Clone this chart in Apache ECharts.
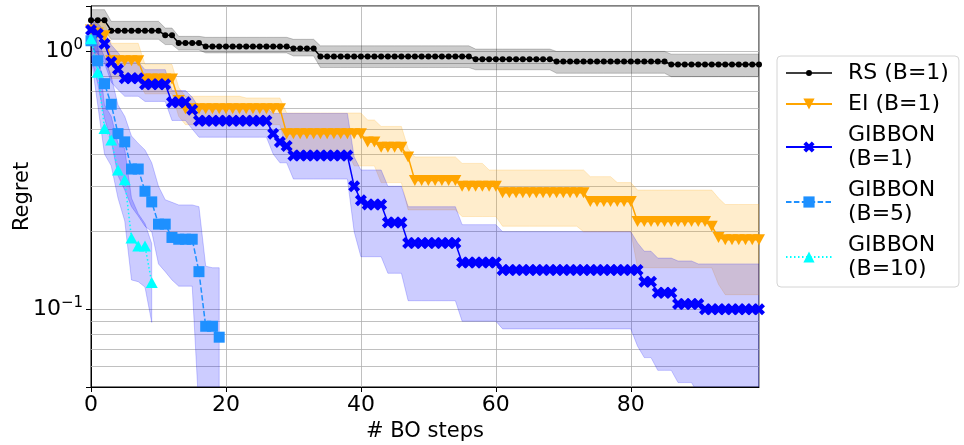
<!DOCTYPE html>
<html>
<head>
<meta charset="utf-8">
<script src="https://cdn.jsdelivr.net/npm/echarts@6/dist/echarts.min.js"></script>
<style>
  html, body { margin: 0; padding: 0; background: #fff; }
  #chart { width: 964px; height: 445px; }
</style>
</head>
<body>
<div id="chart"></div>
<script>
// regret per BO step (x = 0..99)
const rsMean = [
  1.32, 1.32, 1.32, 1.203, 1.203, 1.203, 1.203, 1.203, 1.203, 1.203,
  1.203, 1.154, 1.154, 1.077, 1.077, 1.077, 1.077, 1.046, 1.046, 1.046,
  1.046, 1.046, 1.046, 1.046, 1.046, 1.046, 1.046, 1.046, 1.046, 1.046,
  1.027, 1.027, 1.027, 1.027, 0.956, 0.956, 0.956, 0.956, 0.956, 0.956,
  0.956, 0.956, 0.956, 0.956, 0.956, 0.956, 0.956, 0.956, 0.956, 0.956,
  0.956, 0.956, 0.956, 0.956, 0.956, 0.956, 0.956, 0.933, 0.933, 0.933,
  0.933, 0.933, 0.933, 0.933, 0.933, 0.933, 0.933, 0.933, 0.933, 0.914,
  0.914, 0.914, 0.914, 0.914, 0.914, 0.914, 0.914, 0.914, 0.914, 0.914,
  0.914, 0.914, 0.914, 0.914, 0.914, 0.914, 0.890, 0.890, 0.890, 0.890,
  0.890, 0.890, 0.890, 0.890, 0.890, 0.890, 0.890, 0.890, 0.890, 0.890
];
const rsUpper = [
  1.452, 1.452, 1.452, 1.308, 1.308, 1.308, 1.308, 1.308, 1.308, 1.308,
  1.308, 1.232, 1.232, 1.144, 1.144, 1.144, 1.144, 1.134, 1.134, 1.134,
  1.134, 1.134, 1.134, 1.134, 1.134, 1.134, 1.134, 1.134, 1.134, 1.134,
  1.114, 1.114, 1.114, 1.114, 1.051, 1.051, 1.051, 1.051, 1.051, 1.051,
  1.051, 1.051, 1.051, 1.051, 1.051, 1.051, 1.051, 1.051, 1.051, 1.051,
  1.051, 1.051, 1.051, 1.051, 1.051, 1.051, 1.051, 1.021, 1.021, 1.021,
  1.021, 1.021, 1.021, 1.021, 1.021, 1.021, 1.021, 1.021, 1.021, 1.0,
  1.0, 1.0, 1.0, 1.0, 1.0, 1.0, 1.0, 1.0, 1.0, 1.0,
  1.0, 1.0, 1.0, 1.0, 1.0, 1.0, 0.976, 0.976, 0.976, 0.976,
  0.976, 0.976, 0.976, 0.976, 0.976, 0.976, 0.976, 0.976, 0.976, 0.976
];
const rsLower = [
  1.206, 1.206, 1.206, 1.114, 1.114, 1.114, 1.114, 1.114, 1.114, 1.114,
  1.114, 1.063, 1.063, 1.012, 1.012, 1.012, 1.012, 0.987, 0.987, 0.987,
  0.987, 0.987, 0.987, 0.987, 0.987, 0.987, 0.987, 0.987, 0.987, 0.987,
  0.960, 0.960, 0.960, 0.960, 0.866, 0.866, 0.866, 0.866, 0.866, 0.866,
  0.866, 0.866, 0.866, 0.866, 0.866, 0.866, 0.866, 0.866, 0.866, 0.866,
  0.866, 0.866, 0.866, 0.866, 0.866, 0.866, 0.866, 0.849, 0.849, 0.849,
  0.849, 0.849, 0.849, 0.849, 0.849, 0.849, 0.849, 0.849, 0.849, 0.823,
  0.823, 0.823, 0.823, 0.823, 0.823, 0.823, 0.823, 0.823, 0.823, 0.823,
  0.823, 0.823, 0.823, 0.823, 0.823, 0.823, 0.798, 0.798, 0.798, 0.798,
  0.798, 0.798, 0.798, 0.798, 0.798, 0.798, 0.798, 0.798, 0.798, 0.798
];

const eiMean = [
  1.21, 1.18, 1.15, 0.92, 0.92, 0.92, 0.92, 0.92, 0.782, 0.782,
  0.782, 0.782, 0.782, 0.645, 0.60, 0.60, 0.60, 0.60, 0.60, 0.60,
  0.60, 0.60, 0.60, 0.60, 0.60, 0.60, 0.60, 0.60, 0.60, 0.48,
  0.48, 0.48, 0.48, 0.48, 0.48, 0.48, 0.48, 0.48, 0.48, 0.48,
  0.48, 0.445, 0.445, 0.425, 0.425, 0.425, 0.425, 0.39, 0.316, 0.316,
  0.316, 0.316, 0.316, 0.316, 0.316, 0.30, 0.30, 0.30, 0.30, 0.30,
  0.30, 0.283, 0.283, 0.283, 0.283, 0.283, 0.283, 0.283, 0.283, 0.283,
  0.283, 0.283, 0.283, 0.283, 0.262, 0.262, 0.262, 0.262, 0.262, 0.262,
  0.262, 0.219, 0.219, 0.219, 0.219, 0.219, 0.219, 0.219, 0.219, 0.219,
  0.219, 0.219, 0.21, 0.19, 0.186, 0.186, 0.186, 0.186, 0.186, 0.186
];
const eiUpper = [
  1.3, 1.3, 1.3, 1.075, 1.075, 1.075, 1.075, 1.075, 0.89, 0.89,
  0.89, 0.89, 0.89, 0.725, 0.67, 0.67, 0.67, 0.67, 0.67, 0.67,
  0.67, 0.67, 0.67, 0.66, 0.66, 0.66, 0.66, 0.66, 0.66, 0.577,
  0.577, 0.577, 0.577, 0.577, 0.577, 0.577, 0.577, 0.577, 0.577, 0.577,
  0.577, 0.542, 0.542, 0.512, 0.512, 0.512, 0.512, 0.42, 0.39, 0.39,
  0.39, 0.39, 0.39, 0.39, 0.39, 0.368, 0.368, 0.368, 0.368, 0.347,
  0.347, 0.347, 0.347, 0.347, 0.347, 0.347, 0.347, 0.347, 0.347, 0.347,
  0.347, 0.347, 0.347, 0.347, 0.327, 0.327, 0.327, 0.327, 0.31, 0.31,
  0.31, 0.29, 0.29, 0.29, 0.29, 0.29, 0.29, 0.29, 0.29, 0.29,
  0.29, 0.29, 0.29, 0.27, 0.255, 0.255, 0.255, 0.255, 0.255, 0.255
];
const eiLower = [
  0.96, 0.96, 0.96, 0.785, 0.785, 0.785, 0.785, 0.785, 0.685, 0.685,
  0.685, 0.685, 0.685, 0.56, 0.52, 0.52, 0.52, 0.52, 0.52, 0.52,
  0.52, 0.52, 0.52, 0.52, 0.52, 0.52, 0.52, 0.52, 0.52, 0.41,
  0.41, 0.41, 0.41, 0.41, 0.41, 0.41, 0.41, 0.41, 0.41, 0.36,
  0.36, 0.36, 0.36, 0.31, 0.31, 0.31, 0.31, 0.243, 0.243, 0.243,
  0.243, 0.243, 0.243, 0.243, 0.243, 0.229, 0.229, 0.229, 0.229, 0.229,
  0.229, 0.21, 0.21, 0.21, 0.21, 0.21, 0.21, 0.21, 0.21, 0.21,
  0.21, 0.21, 0.21, 0.2, 0.2, 0.2, 0.2, 0.2, 0.2, 0.2,
  0.2, 0.145, 0.145, 0.145, 0.145, 0.145, 0.145, 0.145, 0.145, 0.145,
  0.145, 0.145, 0.145, 0.125, 0.114, 0.114, 0.114, 0.114, 0.114, 0.114
];

const g1Mean = [
  1.21, 1.17, 1.07, 0.91, 0.852, 0.787, 0.787, 0.787, 0.746, 0.746,
  0.746, 0.746, 0.635, 0.635, 0.635, 0.594, 0.538, 0.538, 0.538, 0.538,
  0.538, 0.538, 0.538, 0.538, 0.538, 0.538, 0.538, 0.48, 0.445, 0.43,
  0.395, 0.395, 0.395, 0.395, 0.395, 0.395, 0.395, 0.395, 0.395, 0.30,
  0.265, 0.255, 0.255, 0.255, 0.217, 0.217, 0.217, 0.181, 0.181, 0.181,
  0.181, 0.181, 0.181, 0.181, 0.181, 0.152, 0.152, 0.152, 0.152, 0.152,
  0.152, 0.142, 0.142, 0.142, 0.142, 0.142, 0.142, 0.142, 0.142, 0.142,
  0.142, 0.142, 0.142, 0.142, 0.142, 0.142, 0.142, 0.142, 0.142, 0.142,
  0.142, 0.142, 0.128, 0.128, 0.116, 0.116, 0.116, 0.105, 0.105, 0.105,
  0.105, 0.1, 0.1, 0.1, 0.1, 0.1, 0.1, 0.1, 0.1, 0.1
];
const g1Upper = [
  1.36, 1.29, 1.19, 1.06, 0.99, 0.91, 0.91, 0.91, 0.85, 0.85,
  0.85, 0.85, 0.705, 0.705, 0.705, 0.665, 0.605, 0.605, 0.605, 0.605,
  0.605, 0.605, 0.605, 0.605, 0.605, 0.605, 0.605, 0.575, 0.575, 0.575,
  0.575, 0.575, 0.575, 0.575, 0.575, 0.575, 0.575, 0.575, 0.575, 0.39,
  0.347, 0.347, 0.347, 0.347, 0.30, 0.30, 0.30, 0.25, 0.25, 0.25,
  0.25, 0.25, 0.25, 0.25, 0.25, 0.213, 0.213, 0.213, 0.213, 0.213,
  0.213, 0.2, 0.2, 0.2, 0.2, 0.2, 0.2, 0.2, 0.2, 0.2,
  0.2, 0.2, 0.2, 0.2, 0.2, 0.2, 0.2, 0.2, 0.2, 0.2,
  0.2, 0.181, 0.168, 0.168, 0.158, 0.158, 0.158, 0.154, 0.154, 0.154,
  0.15, 0.15, 0.15, 0.15, 0.15, 0.15, 0.15, 0.15, 0.15, 0.15
];
const g1Lower = [
  1.05, 0.98, 0.9, 0.76, 0.71, 0.67, 0.67, 0.67, 0.64, 0.64,
  0.64, 0.64, 0.54, 0.54, 0.54, 0.5, 0.465, 0.465, 0.465, 0.465,
  0.465, 0.465, 0.465, 0.465, 0.465, 0.465, 0.465, 0.4, 0.37, 0.37,
  0.32, 0.32, 0.32, 0.32, 0.32, 0.32, 0.32, 0.32, 0.32, 0.2,
  0.16, 0.16, 0.16, 0.16, 0.138, 0.138, 0.138, 0.108, 0.108, 0.108,
  0.108, 0.108, 0.108, 0.108, 0.108, 0.09, 0.09, 0.09, 0.09, 0.09,
  0.09, 0.084, 0.084, 0.084, 0.084, 0.084, 0.084, 0.084, 0.084, 0.084,
  0.084, 0.084, 0.084, 0.084, 0.084, 0.084, 0.084, 0.084, 0.084, 0.084,
  0.084, 0.072, 0.065, 0.065, 0.058, 0.058, 0.058, 0.052, 0.052, 0.052,
  0.047, 0.047, 0.047, 0.047, 0.047, 0.047, 0.047, 0.047, 0.047, 0.047
];

// batch runs stop early
const g5Mean = [1.1, 0.92, 0.75, 0.624, 0.48, 0.446, 0.35, 0.35, 0.287, 0.261,
                0.214, 0.214, 0.19, 0.187, 0.187, 0.187, 0.14, 0.086, 0.086, 0.078];
const g5Upper = [1.3, 1.1, 0.95, 0.8, 0.62, 0.56, 0.47, 0.44, 0.415, 0.37,
                 0.3, 0.266, 0.26, 0.254, 0.254, 0.254, 0.25, 0.147, 0.145, 0.145];
const g5Lower = [0.95, 0.75, 0.55, 0.45, 0.33, 0.29, 0.25, 0.23, 0.21, 0.2,
                 0.15, 0.14, 0.13, 0.123, 0.123, 0.123, 0.04, 0.02, 0.02, 0.02];

const g10Mean = [1.12, 0.83, 0.503, 0.453, 0.347, 0.318, 0.189, 0.176, 0.176, 0.127];
const g10Upper = [1.3, 1.05, 0.62, 0.56, 0.44, 0.42, 0.27, 0.235, 0.215, 0.18];
const g10Lower = [0.95, 0.62, 0.4, 0.36, 0.27, 0.22, 0.13, 0.128, 0.122, 0.089];

// log axis grid lines between the decades
const minorGrid = [0.06, 0.07, 0.08, 0.09, 0.2, 0.3, 0.4, 0.5, 0.6, 0.7, 0.8, 0.9];
const majorLabels = { 1: '{b|10}{s|0}', 0.1: '{b|10}{s|\u22121}' };

const FONT = 'DejaVu Sans';
const xSymbol = 'path://M0,2.5L2.5,0L5,2.5L7.5,0L10,2.5L7.5,5L10,7.5L7.5,10L5,7.5L2.5,10L0,7.5L2.5,5Z';
// line + small dot for the RS legend entry (corner specks keep the 46x14 box)
const rsIcon = 'path://M0,0L0.01,0L0.01,0.01Z M46,14L45.99,14L45.99,13.99Z M0,6.25L46,6.25L46,7.75L0,7.75Z M20,7A3,3,0,1,1,26,7A3,3,0,1,1,20,7Z';

function xy(values) {
  return values.map((v, i) => [i, v]);
}

// shaded band: one polygon (upper edge, then lower edge backwards) placed by the axes
function band(key, lower, upper, rgb) {
  return {
    type: 'custom', name: key + '_band', silent: true, clip: true, z: 1,
    data: lower.map((v, i) => [i, v, upper[i]]),
    encode: { x: 0, y: [1, 2] },
    renderItem: function (params, api) {
      if (params.dataIndex !== 0) return null;
      const top = upper.map((v, i) => api.coord([i, v]));
      const bottom = lower.map((v, i) => api.coord([i, v])).reverse();
      return {
        type: 'polygon',
        shape: { points: top.concat(bottom) },
        style: {
          fill: 'rgba(' + rgb + ',0.2)',
          stroke: 'rgba(' + rgb + ',0.2)',
          lineWidth: 1
        }
      };
    }
  };
}

function mean(name, values, color, symbol, size, dash, extra) {
  return Object.assign({
    type: 'line', name: name, data: xy(values),
    symbol: symbol, symbolSize: size,
    itemStyle: { color: color },
    lineStyle: { color: color, width: 1.5, type: dash },
    z: 3
  }, extra || {});
}

const chart = echarts.init(document.getElementById('chart'));

const option = {
  animation: false,
  backgroundColor: '#fff',
  textStyle: { fontFamily: FONT },
  grid: {
    left: 91, right: 205, top: 6, bottom: 58,
    outerBoundsMode: 'none', containLabel: false,
    show: true, borderColor: '#000', borderWidth: 1
  },
  legend: {
    orient: 'vertical', left: 777, top: 56,
    padding: [5, 10, 6, 8], itemGap: 7,
    itemWidth: 46, itemHeight: 14,
    backgroundColor: '#fff', borderColor: '#d4d4d4', borderWidth: 1, borderRadius: 4,
    selectedMode: false,
    textStyle: { fontFamily: FONT, fontSize: 22, color: '#000', lineHeight: 24, padding: [0, 0, 0, 11] },
    data: [
      { name: 'RS (B=1)', icon: rsIcon },
      'EI (B=1)', 'GIBBON\n(B=1)', 'GIBBON\n(B=5)', 'GIBBON\n(B=10)'
    ]
  },
  xAxis: {
    type: 'value', min: 0, max: 99, interval: 20,
    name: '# BO steps', nameLocation: 'middle', nameGap: 31,
    nameTextStyle: { fontFamily: FONT, fontSize: 21, color: '#000' },
    axisLine: { lineStyle: { color: '#000', width: 1 } },
    axisTick: { length: 5, lineStyle: { color: '#000' } },
    axisLabel: { fontFamily: FONT, fontSize: 22, color: '#000', margin: 7, showMaxLabel: false },
    splitLine: { show: true, lineStyle: { color: '#b0b0b0', width: 0.8 } }
  },
  yAxis: {
    type: 'log', logBase: 10, min: 0.05, max: 1.5,
    name: 'Regret', nameLocation: 'middle', nameGap: 58, nameMoveOverlap: false,
    nameTextStyle: { fontFamily: FONT, fontSize: 21, color: '#000' },
    axisLine: { lineStyle: { color: '#000', width: 1 } },
    axisTick: { length: 5, lineStyle: { color: '#000' } },
    axisLabel: {
      margin: 8, color: '#000',
      formatter: v => majorLabels[v] || '',
      rich: {
        b: { fontFamily: FONT, fontSize: 22, color: '#000' },
        s: { fontFamily: FONT, fontSize: 15, color: '#000', padding: [0, 0, 12, 0] }
      }
    },
    splitLine: { show: true, lineStyle: { color: '#b0b0b0', width: 0.8 } }
  },
  series: [
    {
      type: 'line', name: 'minor-grid', data: [[0, 1]], symbol: 'none',
      lineStyle: { opacity: 0 }, silent: true, clip: false, z: 1,
      markLine: {
        silent: true, symbol: ['none', 'none'], label: { show: false }, z: 1,
        data: minorGrid.map(v => [
          { coord: [0, v], lineStyle: { color: '#b0b0b0', width: 0.8, type: 'solid' } },
          { coord: [99, v] }
        ]).concat(minorGrid.map(v => [
          { coord: [-0.42, v], lineStyle: { color: '#000', width: 1, type: 'solid' } },
          { coord: [0, v] }
        ]))
      }
    },
    band('rs', rsLower, rsUpper, '0,0,0'),
    band('ei', eiLower, eiUpper, '255,165,0'),
    band('g1', g1Lower, g1Upper, '0,0,255'),
    band('g5', g5Lower, g5Upper, '0,0,255'),
    band('g10', g10Lower, g10Upper, '0,0,255'),
    mean('RS (B=1)', rsMean, '#000000', 'circle', 6, 'solid'),
    mean('EI (B=1)', eiMean, '#FFA500', 'triangle', [12, 11], 'solid', { symbolRotate: 180 }),
    mean('GIBBON\n(B=1)', g1Mean, '#0000FF', xSymbol, 12, 'solid'),
    mean('GIBBON\n(B=5)', g5Mean, '#1E90FF', 'rect', 11, [5.5, 2.4]),
    mean('GIBBON\n(B=10)', g10Mean, '#00FFFF', 'triangle', [12, 11], [1.5, 2.5])
  ]
};

chart.setOption(option);
</script>
</body>
</html>
